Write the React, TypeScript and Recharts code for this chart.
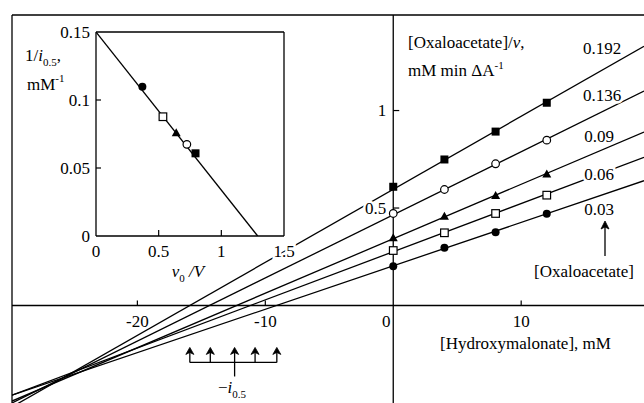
import React from "react";
import {
  ComposedChart,
  Line,
  Scatter,
  XAxis,
  YAxis,
  ReferenceLine,
  ReferenceDot,
} from "recharts";

// main plot: [Oxaloacetate]/v against [Hydroxymalonate]
const hydroxymalonate = [0, 4, 8, 12];
const oxaloacetateLevels = ["0.192", "0.136", "0.09", "0.06", "0.03"];
const rate0192 = [0.609, 0.749, 0.892, 1.04];
const rate0136 = [0.472, 0.595, 0.727, 0.848];
const rate009 = [0.347, 0.458, 0.564, 0.675];
const rate006 = [0.282, 0.373, 0.472, 0.566];
const rate003 = [0.202, 0.296, 0.376, 0.47];

// fitted lines, read at the left and right edge of the frame
const fitEndsX = [-29.8, 19.6];
const fit0192 = [-0.52, 1.33];
const fit0136 = [-0.5, 1.1];
const fit009 = [-0.49, 0.89];
const fit006 = [-0.46, 0.76];
const fit003 = [-0.46, 0.64];

const xTicks = [-20, -10, 10];
const yTicks = [0.5, 1];
const iHalfMarks = [-15.9, -14.3, -12.4, -10.8, -9.1];

// inset: 1/i0.5 against v0/V
const insetV = [0.37, 0.534, 0.64, 0.725, 0.794];
const insetInvI = [0.1098, 0.0877, 0.076, 0.0674, 0.0608];
const insetFitX = [0, 1.29];
const insetFitY = [0.15, 0];
const insetXTicks = [0, 0.5, 1, 1.5];
const insetYTicks = [0, 0.05, 0.1, 0.15];

const FONT = "Liberation Serif, DejaVu Serif, serif";
const FS = 17;

type Kind = "fSquare" | "oCircle" | "fTriangle" | "oSquare" | "fCircle";
const kinds: Kind[] = ["fSquare", "oCircle", "fTriangle", "oSquare", "fCircle"];
const rates = [rate0192, rate0136, rate009, rate006, rate003];
const fits = [fit0192, fit0136, fit009, fit006, fit003];
const insetKinds: Kind[] = ["fCircle", "oSquare", "fTriangle", "oCircle", "fSquare"];

function marker(kind: Kind, cx: number, cy: number) {
  switch (kind) {
    case "fCircle":
      return <circle cx={cx} cy={cy} r={4} fill="#000" />;
    case "oCircle":
      return <circle cx={cx} cy={cy} r={3.8} fill="#fff" stroke="#000" strokeWidth={1.2} />;
    case "oSquare":
      return <rect x={cx - 3.8} y={cy - 3.8} width={7.6} height={7.6} fill="#fff" stroke="#000" strokeWidth={1.2} />;
    case "fSquare":
      return <rect x={cx - 4} y={cy - 4} width={8} height={8} fill="#000" />;
    default:
      return <path d={`M${cx},${cy - 4.5}L${cx + 4.5},${cy + 3.5}L${cx - 4.5},${cy + 3.5}Z`} fill="#000" />;
  }
}

const halo = { stroke: "#fff", strokeWidth: 5, paintOrder: "stroke" as const };
const txt = { fontSize: FS, fill: "#000", style: { fontFamily: FONT } };

function MainChart() {
  return (
    <ComposedChart width={644} height={403} margin={{ top: 15, right: 0, bottom: 0, left: 12 }}>
      <XAxis type="number" dataKey="x" domain={[-29.8, 19.6]} allowDataOverflow hide />
      <YAxis type="number" dataKey="y" domain={[-0.5, 1.49]} allowDataOverflow hide />
      <ReferenceLine x={-29.8} stroke="#000" strokeWidth={1.3} />
      <ReferenceLine y={1.49} stroke="#000" strokeWidth={1.3} />
      <ReferenceLine y={0} stroke="#000" strokeWidth={1.3} />
      <ReferenceLine x={0} stroke="#000" strokeWidth={1.3} />
      {fits.map((f, i) => (
        <Line
          key={"fit" + i}
          data={fitEndsX.map((x, j) => ({ x, y: f[j] }))}
          dataKey="y"
          type="linear"
          stroke="#000"
          strokeWidth={1.3}
          dot={false}
          activeDot={false}
          isAnimationActive={false}
        />
      ))}
      {rates.map((r, i) => (
        <Scatter
          key={"pts" + i}
          data={hydroxymalonate.map((x, j) => ({ x, y: r[j] }))}
          isAnimationActive={false}
          shape={(p: any) => marker(kinds[i], p.cx, p.cy)}
        />
      ))}
      {xTicks.map((t) => (
        <ReferenceDot
          key={"xt" + t}
          x={t}
          y={0}
          r={1}
          shape={(p: any) => (
            <g>
              <line x1={p.cx} y1={p.cy} x2={p.cx} y2={p.cy - 5} stroke="#000" strokeWidth={1.2} />
              <text x={p.cx} y={p.cy + 21} textAnchor="middle" {...txt}>
                {t}
              </text>
            </g>
          )}
        />
      ))}
      <ReferenceDot
        x={0}
        y={0}
        r={1}
        shape={(p: any) => (
          <text x={p.cx - 7} y={p.cy + 21} textAnchor="middle" {...txt}>
            0
          </text>
        )}
      />
      {yTicks.map((t) => (
        <ReferenceDot
          key={"yt" + t}
          x={0}
          y={t}
          r={1}
          shape={(p: any) => (
            <g>
              <line x1={p.cx} y1={p.cy} x2={p.cx + 6} y2={p.cy} stroke="#000" strokeWidth={1.2} />
              <text x={p.cx - 7} y={p.cy + 5.5} textAnchor="end" {...txt} {...halo}>
                {t}
              </text>
            </g>
          )}
        />
      ))}
      {iHalfMarks.map((m) => (
        <ReferenceDot
          key={"ih" + m}
          x={m}
          y={-0.215}
          r={1}
          shape={(p: any) => (
            <g>
              <line x1={p.cx} y1={p.cy + 3} x2={p.cx} y2={p.cy + 15} stroke="#000" strokeWidth={1.3} />
              <path d={`M${p.cx},${p.cy}L${p.cx + 4},${p.cy + 7}L${p.cx},${p.cy + 5}L${p.cx - 4},${p.cy + 7}Z`} fill="#000" stroke="#000" strokeWidth={0.8} />
            </g>
          )}
        />
      ))}
      <ReferenceLine
        segment={[
          { x: iHalfMarks[0], y: -0.292 },
          { x: iHalfMarks[4], y: -0.292 },
        ]}
        stroke="#000"
        strokeWidth={1.3}
      />
      <ReferenceLine
        segment={[
          { x: iHalfMarks[2], y: -0.292 },
          { x: iHalfMarks[2], y: -0.364 },
        ]}
        stroke="#000"
        strokeWidth={1.3}
      />
    </ComposedChart>
  );
}

function InsetChart() {
  return (
    <ComposedChart width={300} height={290} margin={{ top: 32, right: 16, bottom: 54, left: 96 }}>
      <XAxis type="number" dataKey="x" domain={[0, 1.5]} allowDataOverflow hide />
      <YAxis type="number" dataKey="y" domain={[0, 0.15]} allowDataOverflow hide />
      <ReferenceLine x={0} stroke="#000" strokeWidth={1.3} />
      <ReferenceLine x={1.5} stroke="#000" strokeWidth={1.3} />
      <ReferenceLine y={0} stroke="#000" strokeWidth={1.3} />
      <ReferenceLine y={0.15} stroke="#000" strokeWidth={1.3} />
      <Line
        data={insetFitX.map((x, j) => ({ x, y: insetFitY[j] }))}
        dataKey="y"
        type="linear"
        stroke="#000"
        strokeWidth={1.3}
        dot={false}
        activeDot={false}
        isAnimationActive={false}
      />
      {insetV.map((v, i) => (
        <Scatter
          key={"in" + i}
          data={[{ x: v, y: insetInvI[i] }]}
          isAnimationActive={false}
          shape={(p: any) => marker(insetKinds[i], p.cx, p.cy)}
        />
      ))}
      {insetXTicks.map((t) => (
        <ReferenceDot
          key={"ixt" + t}
          x={t}
          y={0}
          r={1}
          shape={(p: any) => (
            <g>
              {t > 0 && t < 1.5 && (
                <line x1={p.cx} y1={p.cy} x2={p.cx} y2={p.cy - 6} stroke="#000" strokeWidth={1.2} />
              )}
              <text x={p.cx} y={p.cy + 21} textAnchor="middle" {...txt} {...halo}>
                {t}
              </text>
            </g>
          )}
        />
      ))}
      {insetYTicks.map((t) => (
        <ReferenceDot
          key={"iyt" + t}
          x={0}
          y={t}
          r={1}
          shape={(p: any) => (
            <g>
              {t > 0 && t < 0.15 && (
                <line x1={p.cx} y1={p.cy} x2={p.cx + 5} y2={p.cy} stroke="#000" strokeWidth={1.2} />
              )}
              <text x={p.cx - 6} y={p.cy + 5.5} textAnchor="end" {...txt}>
                {t}
              </text>
            </g>
          )}
        />
      ))}
    </ComposedChart>
  );
}

function Annotations() {
  return (
    <svg width={644} height={403} style={{ position: "absolute", left: 0, top: 0, pointerEvents: "none" }}>
      <text x={408} y={48} {...txt}>
        [Oxaloacetate]/<tspan fontStyle="italic">v</tspan>,
      </text>
      <text x={408} y={76} {...txt}>
        mM min ΔA
        <tspan dy={-7} fontSize={11}>
          -1
        </tspan>
      </text>
      {oxaloacetateLevels.map((l, i) => (
        <text
          key={l}
          x={[602, 602, 599, 599, 599][i]}
          y={[54, 101, 142, 180, 215][i]}
          textAnchor="middle"
          {...txt}
          {...halo}
        >
          {l}
        </text>
      ))}
      <line x1={605} y1={256} x2={605} y2={226} stroke="#000" strokeWidth={1.3} />
      <path d="M605,221L609,229L605,227L601,229Z" fill="#000" stroke="#000" strokeWidth={0.8} />
      <text x={584} y={277} textAnchor="middle" {...txt}>
        [Oxaloacetate]
      </text>
      <text x={440} y={349} {...txt}>
        [Hydroxymalonate], mM
      </text>
      <text x={25} y={61} {...txt}>
        1/<tspan fontStyle="italic">i</tspan>
        <tspan dy={5} fontSize={11}>
          0.5
        </tspan>
        <tspan dy={-5}>,</tspan>
      </text>
      <text x={27} y={90} {...txt}>
        mM
        <tspan dy={-8} fontSize={11}>
          -1
        </tspan>
      </text>
      <text x={188} y={277} textAnchor="middle" {...txt} fontStyle="italic">
        v<tspan dy={5} fontSize={11} fontStyle="normal">0</tspan>
        <tspan dy={-5}> /V</tspan>
      </text>
      <text x={232} y={393} textAnchor="middle" {...txt}>
        −<tspan fontStyle="italic">i</tspan>
        <tspan dy={5} fontSize={11}>
          0.5
        </tspan>
      </text>
    </svg>
  );
}

export default function App() {
  return (
    <div style={{ position: "absolute", left: 0, top: 0, width: 644, height: 403, background: "#fff" }}>
      <div style={{ position: "absolute", left: 0, top: 0 }}>
        <MainChart />
      </div>
      <div style={{ position: "absolute", left: 0, top: 0 }}>
        <InsetChart />
      </div>
      <Annotations />
    </div>
  );
}
